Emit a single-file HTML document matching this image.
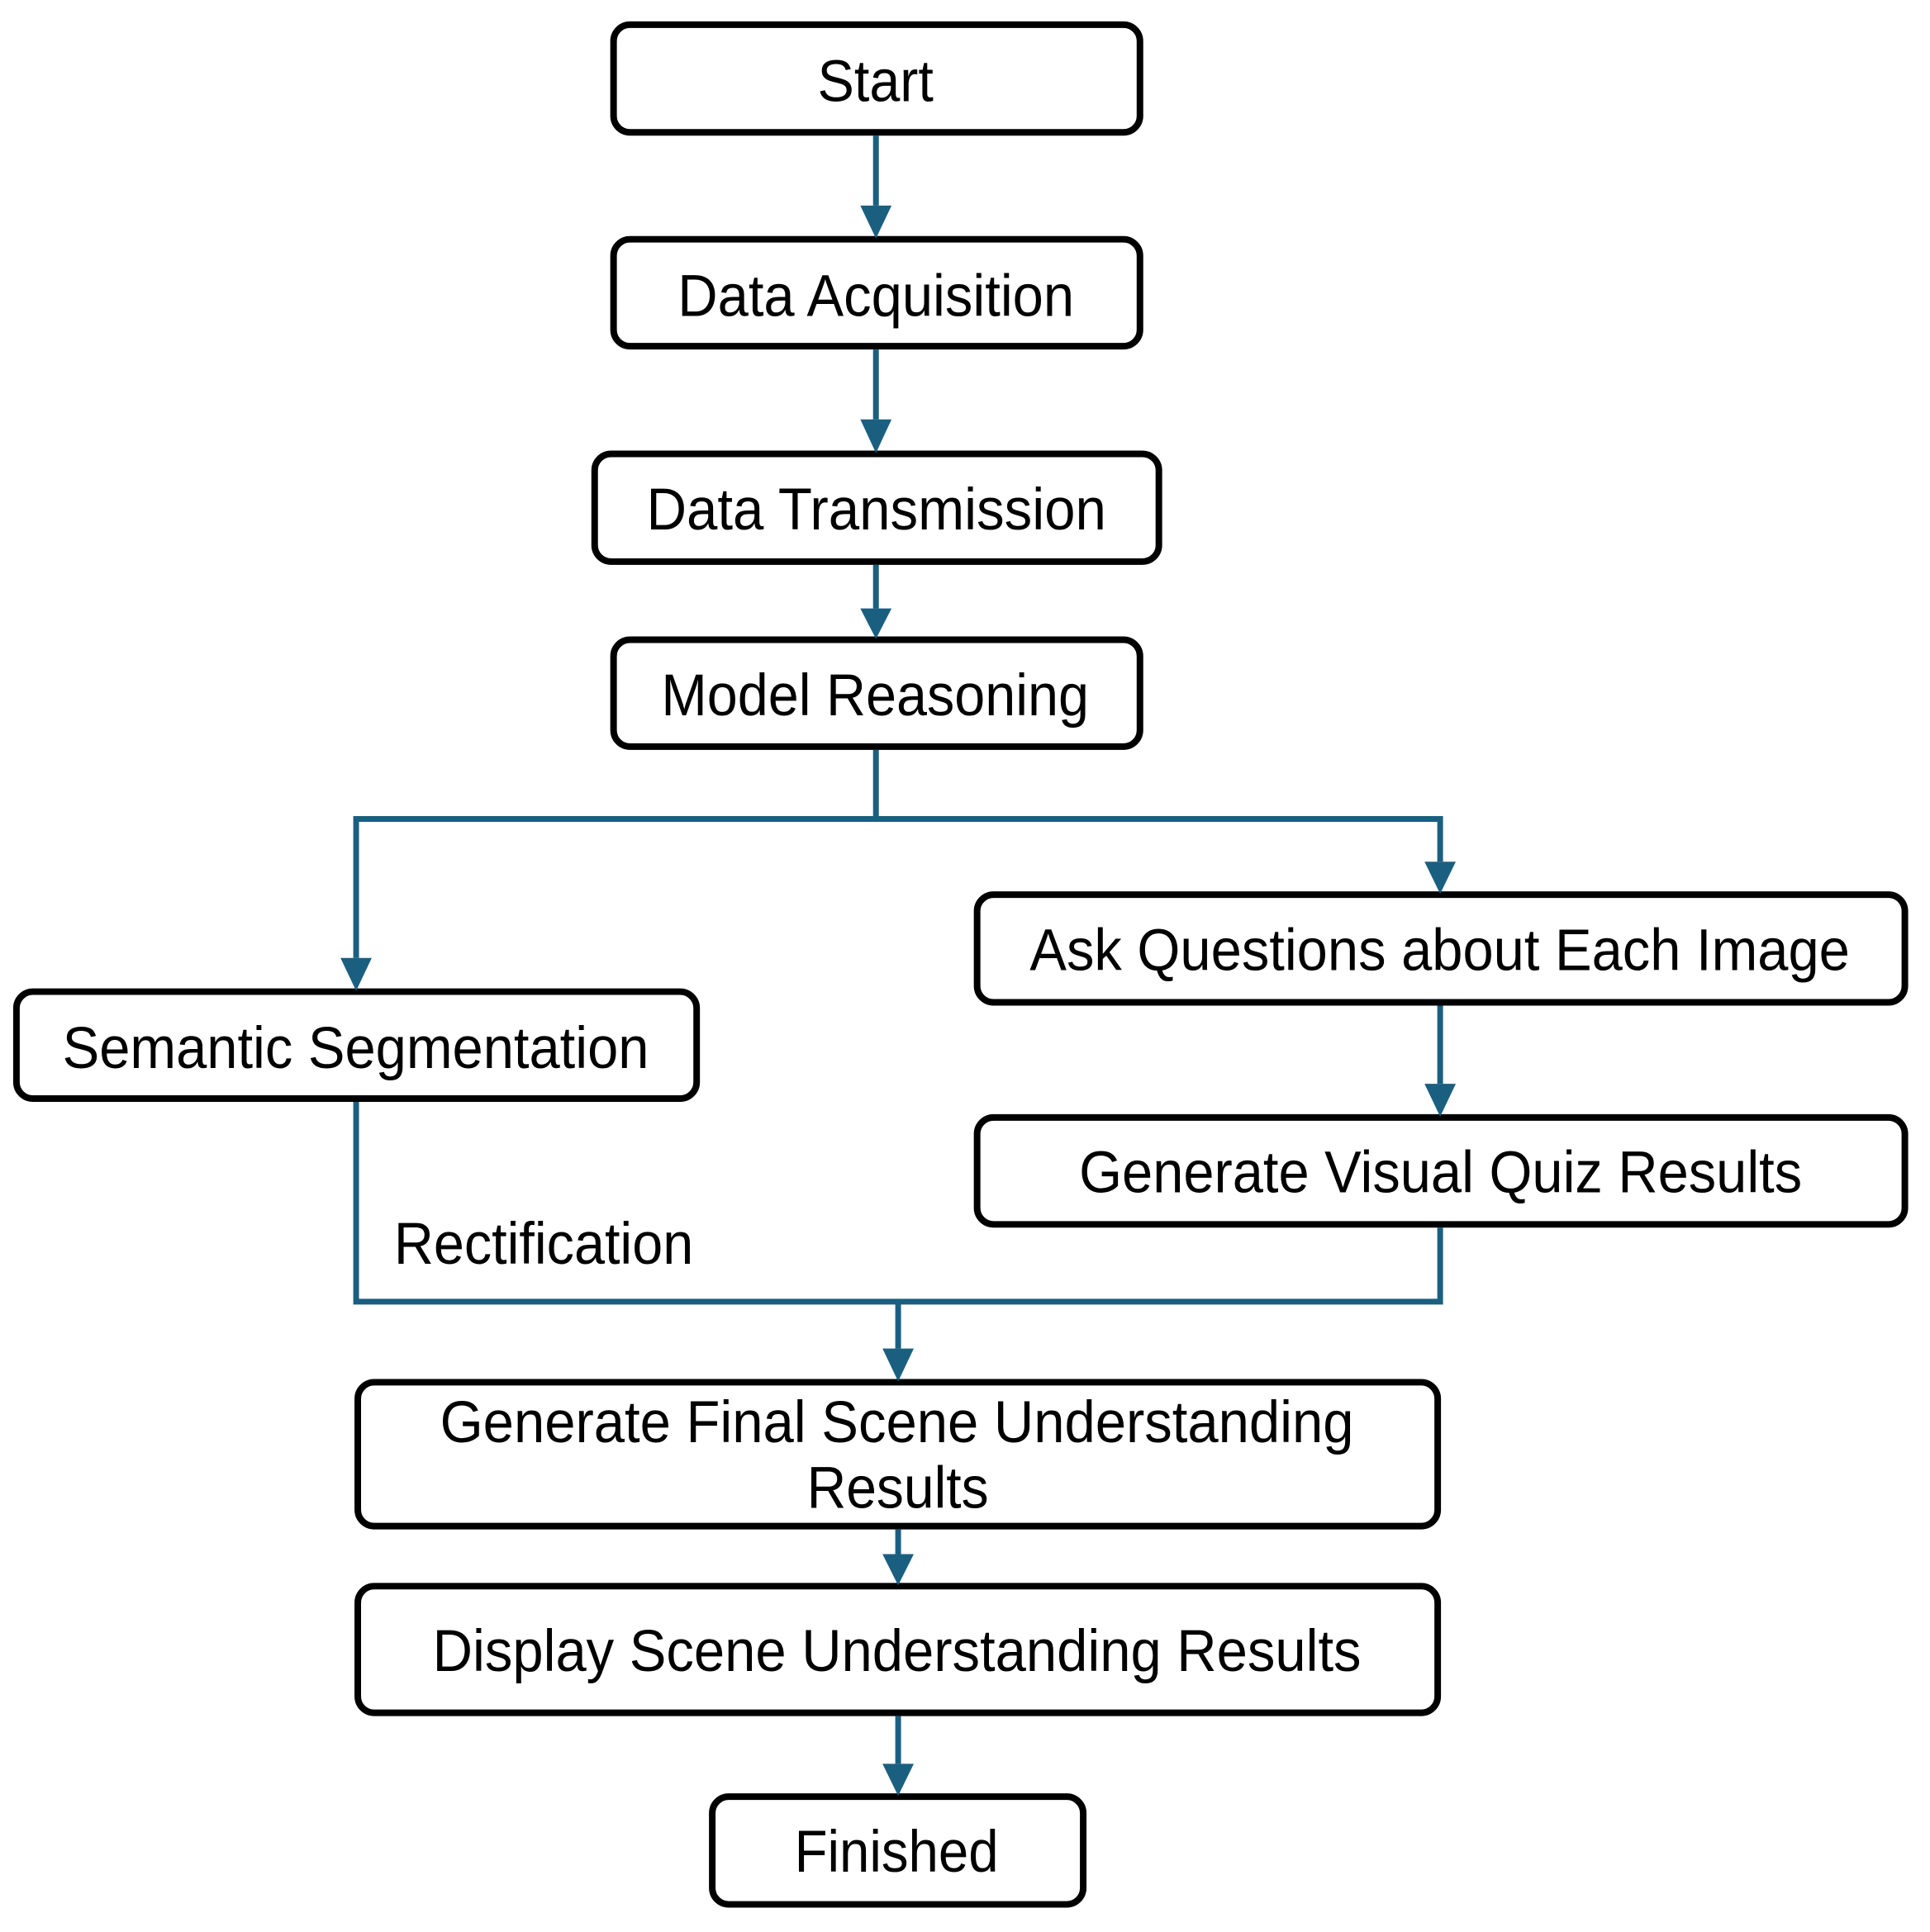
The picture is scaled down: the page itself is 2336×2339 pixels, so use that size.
<!DOCTYPE html>
<html><head><style>html,body{margin:0;padding:0;background:#fff}svg{display:block}</style></head>
<body>
<svg width="2336" height="2339" viewBox="0 0 2336 2339" xmlns="http://www.w3.org/2000/svg">
<g transform="scale(0.9955)">
<g fill="#fff" stroke="#000" stroke-width="8">
<rect x="746" y="30" width="640" height="131" rx="20"/>
<rect x="746" y="291" width="640" height="130" rx="20"/>
<rect x="723" y="552" width="686" height="131" rx="20"/>
<rect x="746" y="778" width="640" height="130" rx="20"/>
<rect x="1188" y="1088" width="1128" height="131" rx="20"/>
<rect x="20" y="1206" width="827" height="130" rx="20"/>
<rect x="1188" y="1359" width="1128" height="130" rx="20"/>
<rect x="435" y="1681" width="1313" height="175" rx="20"/>
<rect x="435" y="1929" width="1313" height="154" rx="20"/>
<rect x="866" y="2185" width="451" height="131" rx="20"/>
</g>
<g fill="none" stroke="#1a5f80" stroke-width="7">
<line x1="1065" y1="165" x2="1065" y2="250"/>
<line x1="1065" y1="425" x2="1065" y2="510"/>
<line x1="1065" y1="687" x2="1065" y2="740"/>
<polyline points="1065,912 1065,996 433,996 433,1165"/>
<polyline points="1065,996 1751,996 1751,1048"/>
<line x1="1751" y1="1223" x2="1751" y2="1318"/>
<polyline points="433,1340 433,1583 1751,1583 1751,1493"/>
<line x1="1092" y1="1583" x2="1092" y2="1640"/>
<line x1="1092" y1="1860" x2="1092" y2="1890"/>
<line x1="1092" y1="2087" x2="1092" y2="2145"/>
</g>
<g fill="#1a5f80">
<polygon points="1046,250 1084,250 1065,290"/>
<polygon points="1046,510 1084,510 1065,551"/>
<polygon points="1046,740 1084,740 1065,777"/>
<polygon points="414,1165 452,1165 433,1205"/>
<polygon points="1732,1048 1770,1048 1751,1087"/>
<polygon points="1732,1318 1770,1318 1751,1358"/>
<polygon points="1073,1640 1111,1640 1092,1680"/>
<polygon points="1073,1890 1111,1890 1092,1928"/>
<polygon points="1073,2145 1111,2145 1092,2184"/>
</g>
<g font-family="Liberation Sans, sans-serif" font-size="72" fill="#000">
<text x="994" y="123" textLength="141" lengthAdjust="spacingAndGlyphs">Start</text>
<text x="824" y="384" textLength="482" lengthAdjust="spacingAndGlyphs">Data Acquisition</text>
<text x="786" y="644" textLength="559" lengthAdjust="spacingAndGlyphs">Data Transmission</text>
<text x="804" y="870" textLength="520" lengthAdjust="spacingAndGlyphs">Model Reasoning</text>
<text x="1252" y="1180" textLength="997" lengthAdjust="spacingAndGlyphs">Ask Questions about Each Image</text>
<text x="76" y="1299" textLength="713" lengthAdjust="spacingAndGlyphs">Semantic Segmentation</text>
<text x="1312" y="1450" textLength="879" lengthAdjust="spacingAndGlyphs">Generate Visual Quiz Results</text>
<text x="479" y="1537" textLength="364" lengthAdjust="spacingAndGlyphs">Rectification</text>
<text x="535" y="1754" textLength="1111" lengthAdjust="spacingAndGlyphs">Generate Final Scene Understanding</text>
<text x="981" y="1834" textLength="221" lengthAdjust="spacingAndGlyphs">Results</text>
<text x="526" y="2032" textLength="1129" lengthAdjust="spacingAndGlyphs">Display Scene Understanding Results</text>
<text x="966" y="2276" textLength="248" lengthAdjust="spacingAndGlyphs">Finished</text>
</g>
</g>
</svg>
</body></html>
